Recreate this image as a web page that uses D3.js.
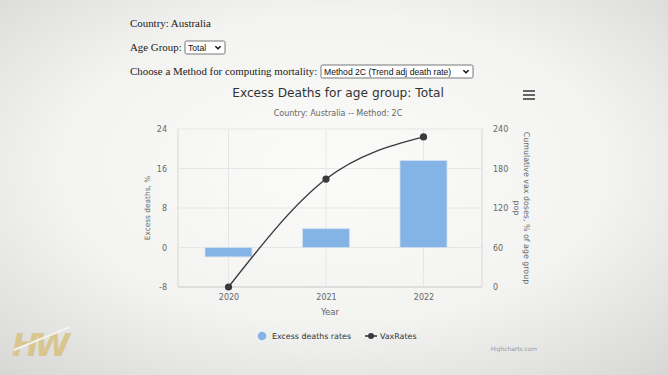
<!DOCTYPE html>
<html>
<head>
<meta charset="utf-8">
<script src="https://cdn.jsdelivr.net/npm/d3@7"></script>
<style>
  html, body { margin: 0; padding: 0; width: 668px; height: 375px; overflow: hidden; }
  svg { display: block; }
</style>
</head>
<body>
<script>
// ---- data ----
const years = [2020, 2021, 2022];
const excessDeaths = [-1.9, 3.8, 17.6];
const vaxRates = [0, 164, 228];
const leftTicks = [-8, 0, 8, 16, 24];
const rightTicks = [0, 60, 120, 180, 240];
const seriesNames = ["Excess deaths rates", "VaxRates"];

const W = 668, H = 375;
const svg = d3.select("body").append("svg").attr("width", W).attr("height", H);

// background with vignette
const defs = svg.append("defs");
const rg = defs.append("radialGradient").attr("id", "bg").attr("cx", "50%").attr("cy", "45%").attr("r", "75%");
rg.append("stop").attr("offset", "0%").attr("stop-color", "#fbfbf9");
rg.append("stop").attr("offset", "55%").attr("stop-color", "#f3f3f1");
rg.append("stop").attr("offset", "100%").attr("stop-color", "#d6d6d4");
svg.append("rect").attr("width", W).attr("height", H).attr("fill", "url(#bg)");

// ---- page header controls ----
const serif = "'Liberation Serif', 'Times New Roman', serif";
const sans = "'Liberation Sans', Arial, sans-serif";
const hs = 10.9;
svg.append("text").attr("x", 130).attr("y", 27).attr("font-family", serif).attr("font-size", hs).attr("fill", "#1a1a1a").text("Country: Australia");
svg.append("text").attr("x", 130).attr("y", 51).attr("font-family", serif).attr("font-size", hs).attr("fill", "#1a1a1a").text("Age Group:");
svg.append("text").attr("x", 130).attr("y", 75).attr("font-family", serif).attr("font-size", hs).attr("fill", "#1a1a1a").text("Choose a Method for computing mortality:");

function selectBox(x, y, w, h, label) {
  const g = svg.append("g");
  g.append("rect").attr("x", x).attr("y", y).attr("width", w).attr("height", h)
    .attr("fill", "#fff").attr("stroke", "#767676").attr("stroke-width", 1).attr("rx", 1.5);
  g.append("text").attr("x", x + 3).attr("y", y + h - 3.2).attr("font-family", sans).attr("font-size", 8.6).attr("fill", "#111").text(label);
  const cx = x + w - 7, cy = y + h / 2;
  g.append("path").attr("d", `M${cx - 2.6},${cy - 1.3} L${cx},${cy + 1.3} L${cx + 2.6},${cy - 1.3}`)
    .attr("fill", "none").attr("stroke", "#111").attr("stroke-width", 1.5);
}
selectBox(185, 41, 40, 13, "Total");
selectBox(321, 65, 152, 13, "Method 2C (Trend adj death rate)");

// ---- chart ----
const plot = { left: 178, right: 482, top: 129, bottom: 287 };
const x = d3.scaleLinear().domain([2019.482, 2022.6]).range([plot.left, plot.right]);
const yL = d3.scaleLinear().domain([-8, 24]).range([plot.bottom, plot.top]);
const yR = d3.scaleLinear().domain([0, 240]).range([plot.bottom, plot.top]);
const chartFont = "'DejaVu Sans', Verdana, sans-serif";

// title & subtitle
svg.append("text").attr("x", 338).attr("y", 97).attr("text-anchor", "middle").attr("font-family", chartFont)
  .attr("font-size", 12.2).attr("fill", "#333").text("Excess Deaths for age group: Total");
svg.append("text").attr("x", 338).attr("y", 116).attr("text-anchor", "middle").attr("font-family", chartFont)
  .attr("font-size", 8).attr("fill", "#666").text("Country: Australia -- Method: 2C");

// menu icon
[91, 95, 99].forEach(yy => svg.append("line").attr("x1", 523).attr("x2", 535).attr("y1", yy).attr("y2", yy)
  .attr("stroke", "#666").attr("stroke-width", 2));

// gridlines horizontal
const grid = svg.append("g");
leftTicks.forEach(t => grid.append("line").attr("x1", plot.left).attr("x2", plot.right)
  .attr("y1", yL(t)).attr("y2", yL(t)).attr("stroke", "#e6e6e6").attr("stroke-width", 1));
// vertical gridlines at categories and plot edges
years.forEach(yr => grid.append("line").attr("x1", x(yr)).attr("x2", x(yr))
  .attr("y1", plot.top).attr("y2", plot.bottom).attr("stroke", "#e6e6e6"));
[plot.left, plot.right].forEach(xx => grid.append("line").attr("x1", xx).attr("x2", xx)
  .attr("y1", plot.top).attr("y2", plot.bottom).attr("stroke", "#d8d8d8"));
grid.append("line").attr("x1", plot.left).attr("x2", plot.right).attr("y1", plot.bottom).attr("y2", plot.bottom)
  .attr("stroke", "#d0d0d0");

// axes (labels via d3 axes)
const fmtHyphen = d => String(d);
const axL = d3.axisLeft(yL).tickValues(leftTicks).tickFormat(fmtHyphen).tickSize(0).tickPadding(11);
const gL = svg.append("g").attr("transform", `translate(${plot.left},0)`).call(axL);
const axR = d3.axisRight(yR).tickValues(rightTicks).tickFormat(fmtHyphen).tickSize(0).tickPadding(11);
const gR = svg.append("g").attr("transform", `translate(${plot.right},0)`).call(axR);
const axB = d3.axisBottom(x).tickValues(years).tickFormat(d3.format("d")).tickSize(0).tickPadding(7);
const gB = svg.append("g").attr("transform", `translate(0,${plot.bottom})`).call(axB);
[gL, gR, gB].forEach(g => {
  g.select(".domain").remove();
  g.selectAll("text").attr("font-family", chartFont).attr("font-size", 8).attr("fill", "#666");
});

// axis titles
svg.append("text").attr("transform", "translate(150,208) rotate(-90)").attr("text-anchor", "middle")
  .attr("font-family", chartFont).attr("font-size", 7.4).attr("fill", "#666").text("Excess deaths, %");
const rt = svg.append("text").attr("transform", "translate(524,208) rotate(90)").attr("text-anchor", "middle")
  .attr("font-family", chartFont).attr("font-size", 7.9).attr("fill", "#666");
rt.append("tspan").attr("x", 0).attr("dy", 0).text("Cumulative vax doses, % of age group");
rt.append("tspan").attr("x", 0).attr("dy", 10).text("pop");
svg.append("text").attr("x", 330).attr("y", 315).attr("text-anchor", "middle")
  .attr("font-family", chartFont).attr("font-size", 8.6).attr("fill", "#666").text("Year");

// bars
const barW = 47;
svg.append("g").selectAll("rect").data(years).join("rect")
  .attr("x", (d) => x(d) - barW / 2)
  .attr("width", barW)
  .attr("y", (d, i) => Math.min(yL(excessDeaths[i]), yL(0)))
  .attr("height", (d, i) => Math.abs(yL(excessDeaths[i]) - yL(0)))
  .attr("fill", "#84b3e5").attr("stroke", "#cfe0f3").attr("stroke-width", 0.8);

// spline line
const pts = years.map((yr, i) => [x(yr), yR(vaxRates[i])]);
svg.append("path").attr("d", d3.line().curve(d3.curveMonotoneX)(pts))
  .attr("fill", "none").attr("stroke", "#3a3a3e").attr("stroke-width", 1.4);
svg.append("g").selectAll("circle").data(pts).join("circle")
  .attr("cx", d => d[0]).attr("cy", d => d[1]).attr("r", 3.6).attr("fill", "#3a3a3e");

// legend
svg.append("circle").attr("cx", 262).attr("cy", 336).attr("r", 4.3).attr("fill", "#84b3e5");
svg.append("text").attr("x", 272).attr("y", 339).attr("font-family", chartFont).attr("font-size", 7.9)
  .attr("fill", "#333").text(seriesNames[0]);
svg.append("line").attr("x1", 365).attr("x2", 377).attr("y1", 336).attr("y2", 336).attr("stroke", "#3a3a3e").attr("stroke-width", 1.6);
svg.append("circle").attr("cx", 371).attr("cy", 336).attr("r", 3).attr("fill", "#3a3a3e");
svg.append("text").attr("x", 380).attr("y", 339).attr("font-family", chartFont).attr("font-size", 7.9)
  .attr("fill", "#333").text(seriesNames[1]);

// credits
svg.append("text").attr("x", 537).attr("y", 351).attr("text-anchor", "end").attr("font-family", chartFont)
  .attr("font-size", 5.9).attr("fill", "#999").text("Highcharts.com");

// watermark logo
const logo = svg.append("g");
logo.append("text").attr("x", 12).attr("y", 356).attr("font-family", "'DejaVu Sans', sans-serif")
  .attr("font-weight", "bold").attr("font-style", "italic").attr("font-size", 32).attr("letter-spacing", -4)
  .attr("fill", "#d8c68e").text("HW");
logo.append("line").attr("x1", 14).attr("y1", 350).attr("x2", 70).attr("y2", 327)
  .attr("stroke", "#f2f2f0").attr("stroke-width", 2);
</script>
</body>
</html>
